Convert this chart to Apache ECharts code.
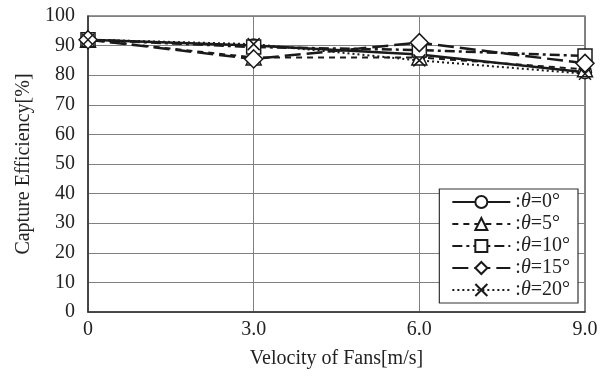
<!DOCTYPE html>
<html>
<head>
<meta charset="utf-8">
<script src="https://cdn.jsdelivr.net/npm/echarts@6/dist/echarts.min.js"></script>
<style>html,body{margin:0;padding:0;background:#fff}#c{width:610px;height:376px}</style>
</head>
<body>
<div id="c"></div>
<script>
var velocities = [0, 3, 6, 9];
var xTickLabels = {0: '0', 3: '3.0', 6: '6.0', 9: '9.0'};
var seriesNames = ['θ=0°', 'θ=5°', 'θ=10°', 'θ=15°', 'θ=20°'];
var theta0 = [92, 90, 87, 81];
var theta5 = [92, 86, 86, 82];
var theta10 = [92, 89.5, 88.5, 86.5];
var theta15 = [92, 85.5, 91, 84];
var theta20 = [92, 90.5, 85, 80.5];

var allValues = [theta0, theta5, theta10, theta15, theta20];
var F = 'Liberation Serif, Times New Roman, serif';
var styles = [
  {type: 'solid', width: 2.5, symbol: 'circle', size: 13},
  {type: [6, 5], width: 2, symbol: 'triangle', size: 15},
  {type: [10, 4, 3, 4], width: 2.5, symbol: 'rect', size: 14},
  {type: [16, 6], width: 2.5, symbol: 'diamond', size: 18},
  {type: [2, 3], width: 2, symbol: 'path://M0,0L10,10M10,0L0,10', size: 12}
];

var series = seriesNames.map(function (n, i) {
  var s = styles[i];
  return {
    name: n,
    type: 'line',
    data: velocities.map(function (v, j) { return [v, allValues[i][j]]; }),
    symbol: s.symbol,
    symbolSize: s.size,
    showAllSymbol: true,
    lineStyle: {color: '#1a1a1a', width: s.width, type: s.type},
    itemStyle: {color: '#fff', borderColor: '#1a1a1a', borderWidth: 1.5},
    emphasis: {disabled: true},
    animation: false
  };
});

var chart = echarts.init(document.getElementById('c'), null, {renderer: 'canvas'});
chart.setOption({
  backgroundColor: '#fff',
  animation: false,
  grid: {left: 88, right: 25, top: 16, bottom: 64, show: true, borderColor: '#333', borderWidth: 1.2},
  xAxis: {
    type: 'value', min: 0, max: 9, interval: 3,
    name: 'Velocity of Fans[m/s]', nameLocation: 'middle', nameGap: 37,
    nameTextStyle: {fontFamily: F, fontSize: 20, color: '#222'},
    axisLine: {lineStyle: {color: '#333', width: 1.5}},
    axisTick: {show: false},
    axisLabel: {fontFamily: F, fontSize: 20, color: '#222', margin: 8,
      formatter: function (v) { return xTickLabels[v]; }},
    splitLine: {show: true, lineStyle: {color: '#808080', width: 1}}
  },
  yAxis: {
    type: 'value', min: 0, max: 100, interval: 10,
    name: 'Capture Efficiency[%]', nameLocation: 'middle', nameGap: 52,
    nameTextStyle: {fontFamily: F, fontSize: 20, color: '#222'},
    axisLine: {show: true, lineStyle: {color: '#333', width: 1.5}},
    axisTick: {show: false},
    axisLabel: {fontFamily: F, fontSize: 20, color: '#222', margin: 13},
    splitLine: {show: true, lineStyle: {color: '#808080', width: 1}}
  },
  legend: {
    orient: 'vertical', right: 32, bottom: 73,
    backgroundColor: '#fff', borderColor: '#333', borderWidth: 1.2,
    padding: [3, 8, 3, 12], itemGap: 2, itemWidth: 58, itemHeight: 15,
    data: seriesNames,
    formatter: function (n) { return '{a|:}{b|θ}{a|' + n.slice(1) + '}'; },
    textStyle: {
      rich: {
        a: {fontFamily: F, fontSize: 20, color: '#222', lineHeight: 20},
        b: {fontFamily: F, fontSize: 20, fontStyle: 'italic', color: '#222', lineHeight: 20}
      }
    }
  },
  series: series
});
</script>
</body>
</html>
